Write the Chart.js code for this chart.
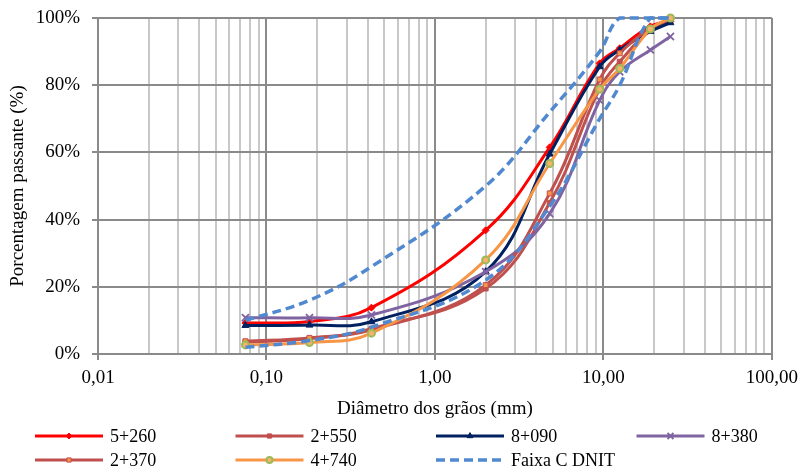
<!DOCTYPE html>
<html>
<head>
<meta charset="utf-8">
<script src="https://cdn.jsdelivr.net/npm/chart.js@4.4.1/dist/chart.umd.min.js"></script>
<style>
  html, body { margin: 0; padding: 0; background: #ffffff; }
  #wrap { width: 805px; height: 469px; }
</style>
</head>
<body>
<div id="wrap"><canvas id="c" width="805" height="469"></canvas></div>
<script>
// Peneiras (mm) e porcentagem passante de cada amostra
const sieves   = [0.075, 0.18, 0.42, 2.0, 4.8, 9.5, 12.5, 19, 25];
const s5260    = [9.2, 9.7, 13.8, 36.8, 61.5, 86.5, 91.0, 97.5, 99.0];
const s2550    = [3.5, 4.5, 7.5, 19.5, 45.0, 79.0, 87.0, 96.5, 99.5];
const s8090    = [8.5, 8.6, 9.6, 24.5, 59.5, 85.5, 90.5, 96.0, 98.6];
const s8380    = [10.8, 10.8, 11.6, 24.5, 41.8, 75.5, 84.0, 90.5, 94.5];
const s2370    = [3.8, 4.8, 7.2, 20.5, 47.8, 81.7, 89.5, 97.0, 99.8];
const s4740    = [2.7, 3.4, 6.2, 28.0, 56.7, 78.8, 85.0, 96.7, 100];
// Limites da Faixa C (DNIT)
const faixaSup = [10, 16, 26, 50, 72, 90, 100, 100, 100];
const faixaInf = [2, 4, 8, 22, 44, 70, 80, 100, 100];
// Eixos
const xMajorTicks = [0.01, 0.1, 1, 10, 100];
const xTickLabels = ['0,01', '0,10', '1,00', '10,00', '100,00'];
const yTicks = [0, 20, 40, 60, 80, 100];

const FONT = '"Liberation Serif", "Times New Roman", serif';
const MAJOR = '#8a8a8a';
const MINOR = '#c8c8c8';

const pts = vals => sieves.map((d, i) => ({ x: d, y: vals[i] }));
const isMajor = v => Math.abs(Math.log10(v) - Math.round(Math.log10(v))) < 1e-9;

function series(label, vals, o) {
  return Object.assign({
    label, data: pts(vals), borderWidth: 3, tension: 0.4, clip: false,
    pointRadius: 3.5, pointBorderWidth: 1, fill: false
  }, o);
}

const datasets = [
  series('5+260', s5260, { borderColor: '#ff0000', pointStyle: 'rectRot', pointBackgroundColor: '#ff0000', pointBorderColor: '#ff0000' }),
  series('2+550', s2550, { borderColor: '#c0504d', pointStyle: 'rect', pointBackgroundColor: '#c0504d', pointBorderColor: '#c0504d' }),
  series('8+090', s8090, { borderColor: '#002060', pointStyle: 'triangle', pointRadius: 4, pointBackgroundColor: '#002060', pointBorderColor: '#002060' }),
  series('8+380', s8380, { borderColor: '#8064a2', pointStyle: 'crossRot', pointRadius: 5, pointBorderWidth: 1.8, pointBackgroundColor: '#8064a2', pointBorderColor: '#8064a2' }),
  series('2+370', s2370, { borderColor: '#c0504d', pointStyle: 'rect', pointBackgroundColor: '#f79646', pointBorderColor: '#c0504d' }),
  series('4+740', s4740, { borderColor: '#f79646', pointStyle: 'circle', pointRadius: 3.5, pointBorderWidth: 2, pointBackgroundColor: '#f7b26b', pointBorderColor: '#9bbb59' }),
  series('Faixa C DNIT', faixaSup, { borderColor: '#5089cf', borderWidth: 3.5, borderDash: [9, 5], pointRadius: 0, pointStyle: false }),
  series('Faixa C DNIT', faixaInf, { borderColor: '#5089cf', borderWidth: 3.5, borderDash: [9, 5], pointRadius: 0, pointStyle: false, inLegend: false })
];
// later series are painted over earlier ones
datasets.forEach((d, i) => { d.order = datasets.length - i; });

// Legend: line sample with its marker in the middle, four per row
const lineLegend = {
  id: 'lineLegend',
  afterDraw(chart) {
    const ctx = chart.ctx;
    const items = chart.data.datasets.filter(d => d.inLegend !== false);
    items.forEach((ds, i) => {
      const col = i % 4, row = Math.floor(i / 4);
      const x0 = 35 + col * 200.5, y = 436 + row * 24, len = 68;
      ctx.save();
      ctx.strokeStyle = ds.borderColor;
      ctx.lineWidth = ds.borderWidth;
      ctx.setLineDash(ds.borderDash || []);
      ctx.beginPath(); ctx.moveTo(x0, y); ctx.lineTo(x0 + len, y); ctx.stroke();
      ctx.setLineDash([]);
      if (ds.pointStyle && ds.pointRadius > 0) {
        ctx.fillStyle = ds.pointBackgroundColor;
        ctx.strokeStyle = ds.pointBorderColor;
        ctx.lineWidth = ds.pointBorderWidth;
        Chart.helpers.drawPoint(ctx, { pointStyle: ds.pointStyle, radius: ds.pointRadius * 0.85, borderWidth: ds.pointBorderWidth, rotation: 0 }, x0 + len / 2, y);
      }
      ctx.fillStyle = '#000';
      ctx.font = '18px ' + FONT;
      ctx.textBaseline = 'middle';
      ctx.textAlign = 'left';
      ctx.fillText(ds.label, x0 + len + 7, y + 1);
      ctx.restore();
    });
  }
};

new Chart(document.getElementById('c'), {
  type: 'line',
  data: { datasets },
  plugins: [lineLegend],
  options: {
    responsive: false,
    animation: false,
    layout: { padding: { top: 18, right: 31, bottom: 49, left: 0 } },
    plugins: { legend: { display: false }, tooltip: { enabled: false } },
    scales: {
      x: {
        type: 'logarithmic',
        min: xMajorTicks[0],
        max: xMajorTicks[xMajorTicks.length - 1],
        afterBuildTicks(scale) {
          const t = [];
          for (let k = 0; k < xMajorTicks.length; k++) {
            const base = xMajorTicks[k];
            const top = k === xMajorTicks.length - 1 ? 1 : 9;
            for (let m = 1; m <= top; m++) t.push({ value: +(m * base).toPrecision(3) });
          }
          scale.ticks = t;
        },
        ticks: {
          autoSkip: false, maxRotation: 0, minRotation: 0, padding: 7,
          color: '#000', font: { family: FONT, size: 19 },
          callback(v) {
            const k = xMajorTicks.findIndex(m => Math.abs(m - v) < 1e-9);
            return k >= 0 ? xTickLabels[k] : '';
          }
        },
        grid: {
          lineWidth: 2, tickLength: 6,
          color: c => (c.tick && isMajor(c.tick.value)) ? MAJOR : MINOR,
          tickColor: c => (c.tick && isMajor(c.tick.value)) ? MAJOR : 'rgba(0,0,0,0)'
        },
        border: { color: MAJOR, width: 2 },
        title: { display: true, text: 'Diâmetro dos grãos (mm)', color: '#000', font: { family: FONT, size: 19 }, padding: { top: 0, bottom: 0 } },
        afterFit(scale) { scale.height = 66; }
      },
      y: {
        min: 0, max: 100,
        afterBuildTicks(scale) { scale.ticks = yTicks.map(v => ({ value: v })); },
        ticks: { padding: 12, color: '#000', font: { family: FONT, size: 19 }, callback: v => v + '%' },
        grid: { color: MAJOR, lineWidth: 2, tickLength: 6 },
        border: { color: MAJOR, width: 2 },
        title: { display: true, text: 'Porcentagem passante (%)', color: '#000', font: { family: FONT, size: 19 }, padding: { top: 7, bottom: 0 } },
        afterFit(scale) { scale.width = 98; scale.paddingTop = 0; }
      }
    }
  }
});
</script>
</body>
</html>
